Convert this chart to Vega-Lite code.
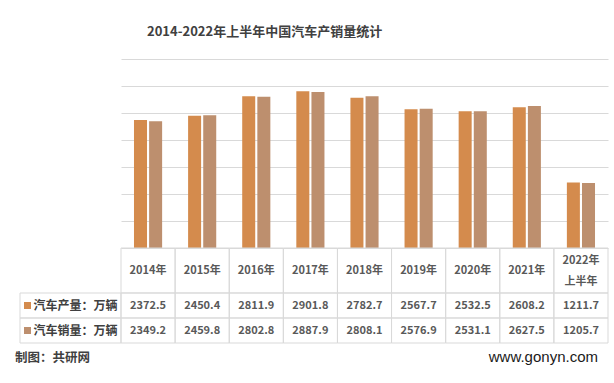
{
  "$schema": "https://vega.github.io/schema/vega-lite/v6.json",
  "padding": {"left": 15, "top": 26, "right": 6, "bottom": 8},
  "background": "white",
  "config": {
    "view": {"stroke": null},
    "font": "Noto Sans CJK SC",
    "title": {"font": "Noto Sans CJK SC"}
  },
  "title": {
    "text": "2014-2022年上半年中国汽车产销量统计",
    "anchor": "start",
    "frame": "group",
    "dx": 127,
    "fontSize": 13,
    "fontWeight": "bold",
    "color": "#404040",
    "offset": 20
  },
  "datasets": {
    "d": [
      {"year": "2014年", "series": "汽车产量：万辆", "value": 2372.5},
      {"year": "2014年", "series": "汽车销量：万辆", "value": 2349.2},
      {"year": "2015年", "series": "汽车产量：万辆", "value": 2450.4},
      {"year": "2015年", "series": "汽车销量：万辆", "value": 2459.8},
      {"year": "2016年", "series": "汽车产量：万辆", "value": 2811.9},
      {"year": "2016年", "series": "汽车销量：万辆", "value": 2802.8},
      {"year": "2017年", "series": "汽车产量：万辆", "value": 2901.8},
      {"year": "2017年", "series": "汽车销量：万辆", "value": 2887.9},
      {"year": "2018年", "series": "汽车产量：万辆", "value": 2782.7},
      {"year": "2018年", "series": "汽车销量：万辆", "value": 2808.1},
      {"year": "2019年", "series": "汽车产量：万辆", "value": 2567.7},
      {"year": "2019年", "series": "汽车销量：万辆", "value": 2576.9},
      {"year": "2020年", "series": "汽车产量：万辆", "value": 2532.5},
      {"year": "2020年", "series": "汽车销量：万辆", "value": 2531.1},
      {"year": "2021年", "series": "汽车产量：万辆", "value": 2608.2},
      {"year": "2021年", "series": "汽车销量：万辆", "value": 2627.5},
      {"year": "2022年\n上半年", "series": "汽车产量：万辆", "value": 1211.7},
      {"year": "2022年\n上半年", "series": "汽车销量：万辆", "value": 1205.7}
    ],
    "s": [
      {"series": "汽车产量：万辆"},
      {"series": "汽车销量：万辆"}
    ]
  },
  "columns": 2,
  "spacing": 0,
  "bounds": "flush",
  "align": "each",
  "concat": [
    {
      "width": 101, "height": 189,
      "data": {"values": []},
      "mark": "text",
      "encoding": {}
    },
    {
      "width": 487, "height": 189,
      "data": {"name": "d"},
      "mark": {"type": "bar"},
      "encoding": {
        "x": {"field": "year", "type": "nominal", "sort": null, "axis": null,
              "scale": {"paddingInner": 0.48, "paddingOuter": 0.24}},
        "xOffset": {"field": "series", "type": "nominal", "sort": ["汽车产量：万辆", "汽车销量：万辆"],
              "scale": {"paddingInner": 0.14, "paddingOuter": 0}},
        "y": {"field": "value", "type": "quantitative",
              "scale": {"domain": [0, 3500], "nice": false},
              "axis": {"values": [0, 500, 1000, 1500, 2000, 2500, 3000, 3500],
                       "labels": false, "ticks": false, "domain": false, "title": null,
                       "grid": true, "gridColor": "#d9d9d9", "gridWidth": 1}},
        "color": {"field": "series", "type": "nominal",
                  "scale": {"domain": ["汽车产量：万辆", "汽车销量：万辆"], "range": ["#D48B4D", "#BD8F6E"]},
                  "legend": null}
      }
    },
    {
      "width": 101, "height": 45,
      "data": {"values": []},
      "mark": "text",
      "encoding": {}
    },
    {
      "width": 487, "height": 45,
      "data": {"name": "d"},
      "transform": [{"filter": "datum.series === '汽车产量：万辆'"}],
      "encoding": {
        "x": {"field": "year", "type": "nominal", "sort": null, "axis": null,
              "scale": {"paddingInner": 0, "paddingOuter": 0}}
      },
      "layer": [
        {"mark": {"type": "rect", "filled": false, "stroke": "#d9d9d9", "strokeWidth": 1}},
        {"transform": [{"filter": "indexof(datum.year, '上半年') < 0"}],
         "mark": {"type": "text", "fontSize": 11, "fontWeight": "bold", "color": "#595959", "baseline": "middle"},
         "encoding": {"text": {"field": "year"}}},
        {"transform": [{"filter": "indexof(datum.year, '上半年') >= 0"}],
         "mark": {"type": "text", "fontSize": 11, "fontWeight": "bold", "color": "#595959",
                  "lineBreak": "\n", "lineHeight": 21, "baseline": "middle", "dy": -10},
         "encoding": {"text": {"field": "year"}}}
      ]
    },
    {
      "width": 101, "height": 50,
      "data": {"name": "s"},
      "title": {"text": "制图：共研网", "orient": "bottom", "anchor": "start", "frame": "group",
                "dx": -5, "offset": 8, "fontSize": 12.5, "fontWeight": "bold", "color": "#404040"},
      "encoding": {
        "y": {"field": "series", "type": "nominal", "sort": ["汽车产量：万辆", "汽车销量：万辆"], "axis": null,
              "scale": {"paddingInner": 0, "paddingOuter": 0}}
      },
      "layer": [
        {"mark": {"type": "rect", "filled": false, "stroke": "#d9d9d9", "strokeWidth": 1}},
        {"mark": {"type": "point", "shape": "square", "filled": true, "size": 49, "opacity": 1, "xOffset": -43},
         "encoding": {"color": {"field": "series", "type": "nominal",
                  "scale": {"domain": ["汽车产量：万辆", "汽车销量：万辆"], "range": ["#D48B4D", "#BD8F6E"]},
                  "legend": null}}},
        {"mark": {"type": "text", "align": "left", "dx": -37, "fontSize": 12, "fontWeight": "bold", "color": "#404040"},
         "encoding": {"text": {"field": "series"}}}
      ]
    },
    {
      "width": 487, "height": 50,
      "data": {"name": "d"},
      "title": {"text": "www.gonyn.com", "orient": "bottom", "anchor": "end", "frame": "group",
                "dx": -10, "offset": 6, "fontSize": 15, "fontWeight": "normal", "color": "#1a1a1a",
                "font": "Liberation Sans"},
      "encoding": {
        "x": {"field": "year", "type": "nominal", "sort": null, "axis": null,
              "scale": {"paddingInner": 0, "paddingOuter": 0}},
        "y": {"field": "series", "type": "nominal", "sort": ["汽车产量：万辆", "汽车销量：万辆"], "axis": null,
              "scale": {"paddingInner": 0, "paddingOuter": 0}}
      },
      "layer": [
        {"mark": {"type": "rect", "filled": false, "stroke": "#d9d9d9", "strokeWidth": 1}},
        {"mark": {"type": "text", "fontSize": 11, "fontWeight": "bold", "color": "#595959"},
         "encoding": {"text": {"field": "value", "type": "quantitative", "format": ".1f"}}}
      ]
    }
  ]
}
